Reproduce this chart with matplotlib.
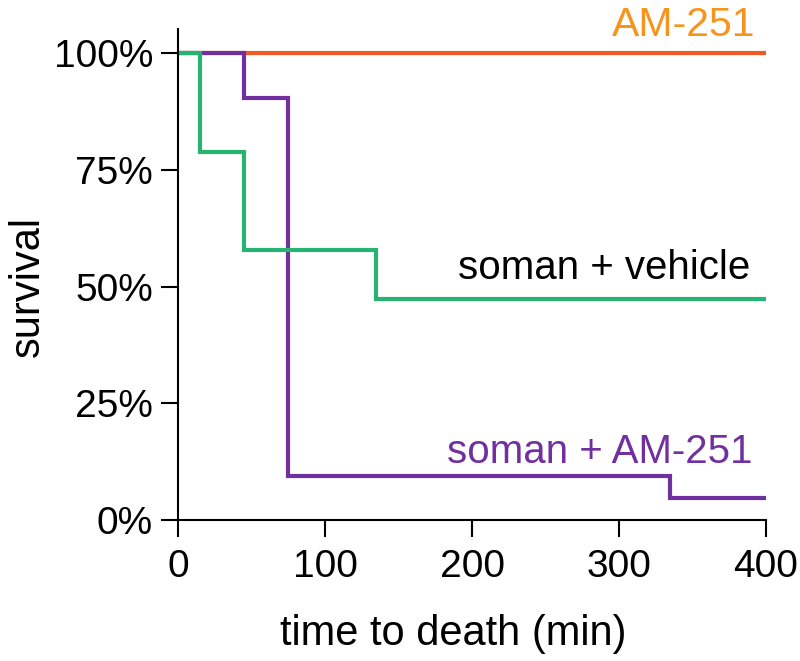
import matplotlib
matplotlib.use("Agg")
import matplotlib.pyplot as plt

plt.rcParams['font.family'] = ['Liberation Sans', 'DejaVu Sans']

# survival step data (time in min, fraction surviving)
t_am = [0, 400]
s_am = [1.0, 1.0]

t_veh = [0, 15, 45, 135, 400]
s_veh = [1.0, 0.789, 0.579, 0.474, 0.474]

t_soam = [0, 45, 75, 335, 400]
s_soam = [1.0, 0.905, 0.095, 0.048, 0.048]

xticks = [0, 100, 200, 300, 400]
yticks = [0, 0.25, 0.5, 0.75, 1.0]
ylabels = ['0%', '25%', '50%', '75%', '100%']

c_green = '#27b473'
c_purple = '#7030a0'
c_orange = '#f15a24'
c_orange_txt = '#f7941d'

fig = plt.figure(figsize=(8, 6.61), dpi=100)
ax = fig.add_axes([0.2225, 0.2133, 0.735, 0.743])

ax.step(t_am, s_am, where='post', color=c_orange, lw=3, solid_joinstyle='miter')
ax.step(t_soam, s_soam, where='post', color=c_purple, lw=3, solid_joinstyle='miter')
ax.step(t_veh, s_veh, where='post', color=c_green, lw=3, solid_joinstyle='miter')

ax.set_xlim(0, 400)
ax.set_ylim(0, 1.052)
ax.set_xticks(xticks)
ax.set_yticks(yticks)
ax.set_yticklabels(ylabels)
ax.tick_params(labelsize=28, width=1.5, length=12, direction='out', pad=6)
ax.tick_params(axis='x', pad=9)
for side in ['top', 'right']:
    ax.spines[side].set_visible(False)
for side in ['left', 'bottom']:
    ax.spines[side].set_linewidth(1.5)

ax.set_xlabel('time to death (min)', fontsize=30, va='baseline')
ax.xaxis.set_label_coords(0.468, -0.2546)
ax.set_ylabel('survival', fontsize=30, va='center')
ax.yaxis.set_label_coords(-0.255, 0.4745)

ax.text(392.5, 1.036, 'AM-251', color=c_orange_txt, fontsize=29.5, ha='right',
        va='baseline', clip_on=False)
ax.text(389, 0.516, 'soman + vehicle', color='black', fontsize=29, ha='right', va='baseline')
ax.text(390.5, 0.122, 'soman + AM-251', color=c_purple, fontsize=29, ha='right', va='baseline')

fig.savefig('out.png', dpi=100)
